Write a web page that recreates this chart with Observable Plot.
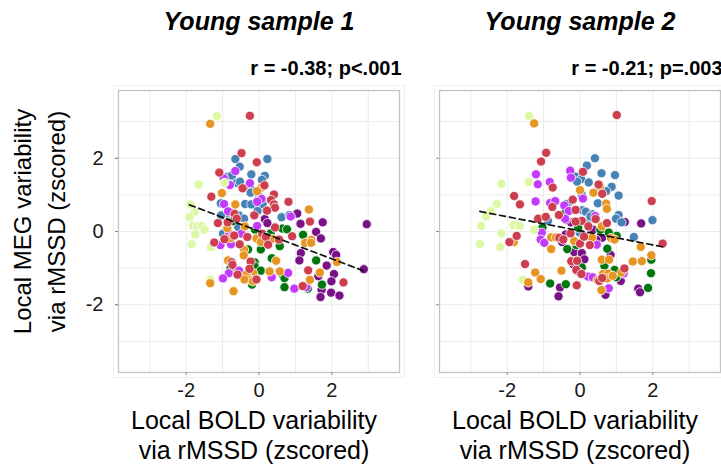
<!DOCTYPE html>
<html><head><meta charset="utf-8">
<script src="https://cdn.jsdelivr.net/npm/d3@7"></script>
<script src="https://cdn.jsdelivr.net/npm/@observablehq/plot@0.6"></script>
<style>body{margin:0;background:#fff} #chart{width:721px;height:466px;overflow:hidden}</style>
</head><body><div id="chart"></div>
<script>
const samples = ["Young sample 1", "Young sample 2"];
const stats = ["r = -0.38; p<.001", "r = -0.21; p=.003"];
const networks = ["Visual", "Somatomotor", "Dorsal Attention", "Ventral Attention", "Limbic", "Frontoparietal", "Default"];
const netColors = ["#781286", "#4682B4", "#00760E", "#C43AFA", "#DCF8A4", "#E69422", "#CD3E4E"];
const xTicks = [-2, 0, 2];
const yTicks = [-2, 0, 2];
const gridTicks = [-3, -2, -1, 0, 1, 2, 3];
const xTitle = "Local BOLD variability\nvia rMSSD (zscored)";
const yTitle = "Local MEG variability\nvia rMSSD (zscored)";

// Young sample 1: [BOLD, MEG] per parcel, by network
const s1Visual = [[1.05,0.49],[1.75,0.25],[1.14,0.21],[0.16,0.34],[0.23,0.23],[1.57,-0.01],[1.70,-0.19],[1.15,-0.59],[1.11,-0.79],[2.04,-0.56],[2.12,-0.64],[1.86,-0.93],[1.63,-1.22],[2.06,-1.16],[1.99,-1.36],[1.72,-1.59],[1.98,-1.67],[2.21,-1.75],[1.69,-1.79],[2.96,0.20],[2.88,-1.03]];
const s1Somatomotor = [[-0.65,1.98],[0.23,1.98],[-0.53,1.77],[-0.87,1.49],[-0.74,1.53],[-0.21,1.56],[0.16,1.52],[0.08,1.41],[-0.61,1.33],[-0.52,1.36],[-0.25,1.19],[-0.23,1.06],[0.00,0.97],[-0.04,0.83],[-1.05,0.77],[-0.38,0.75],[-0.21,0.74],[0.10,0.74],[-0.04,0.56],[-0.81,0.45],[-1.04,0.44],[-0.55,0.44],[-0.41,0.35],[-0.72,0.32],[0.62,0.39],[0.84,0.45],[-0.57,0.12],[-0.99,-0.06],[0.02,-0.08]];
const s1DorsalAttn = [[-0.72,0.28],[-0.11,0.05],[0.64,0.08],[0.77,0.06],[0.32,-0.05],[1.21,-0.09],[-0.30,-0.49],[0.05,-0.49],[0.57,-0.40],[0.35,-0.73],[-0.12,-0.84],[-0.12,-0.95],[-0.78,-0.99],[1.57,-0.79],[0.05,-1.07],[-0.19,-1.45],[0.65,-1.18],[0.70,-1.27],[0.70,-1.52],[1.34,-1.56],[1.73,-1.45],[-0.70,0.51]];
const s1VentralAttn = [[-0.65,1.65],[-0.97,1.45],[-0.80,1.27],[-0.25,1.32],[0.07,0.89],[-0.96,0.75],[-0.05,0.81],[-0.85,0.55],[0.87,0.41],[-0.05,0.15],[-0.82,-0.05],[-0.48,-0.06],[-1.06,-0.37],[-0.77,-0.35],[-0.55,-1.07],[-0.83,-1.14],[-0.99,-1.28],[0.80,-1.13],[0.35,-1.25],[0.97,-1.56],[1.30,-1.52]];
const s1Limbic = [[-1.15,3.15],[-1.66,1.28],[-0.95,1.33],[-1.88,0.74],[-1.77,0.53],[-1.91,0.39],[-1.81,0.16],[-1.70,0.14],[-1.57,0.15],[-1.50,0.05],[-1.75,-0.08],[-1.85,-0.35],[-1.32,-0.43],[-1.34,-1.32]];
const s1Frontoparietal = [[-1.34,2.94],[0.07,1.20],[-0.05,1.10],[-1.02,1.05],[-0.65,0.74],[1.37,0.60],[-0.39,0.14],[-0.87,0.09],[0.36,-0.20],[-0.77,-0.18],[-0.07,-0.19],[0.05,-0.29],[1.44,-0.23],[1.27,-0.31],[1.43,-0.31],[-0.41,-0.50],[-0.42,-0.65],[0.47,-0.80],[-0.85,-0.79],[2.14,-0.83],[-0.16,-1.14],[-0.34,-1.17],[0.29,-1.09],[1.67,-1.12],[-0.24,-1.32],[-0.40,-1.31],[-0.17,-1.36],[-1.34,-1.41],[0.57,-1.09],[1.40,-1.32],[-0.70,-1.63]];
const s1Default = [[-0.25,3.16],[-0.48,2.14],[-0.06,1.89],[-1.09,1.61],[0.15,1.26],[-0.45,1.18],[0.41,1.01],[-1.31,0.95],[0.33,0.86],[0.81,0.81],[0.41,0.74],[0.44,0.65],[0.22,0.57],[-0.13,0.44],[-0.67,0.48],[-0.61,0.35],[1.40,0.27],[-1.13,0.23],[-0.86,0.25],[0.44,0.11],[-0.68,-0.11],[0.09,-0.06],[0.19,-0.15],[-0.95,-0.21],[-0.32,-0.15],[0.25,-0.36],[0.55,-0.22],[0.91,-0.13],[-1.23,-0.30],[-0.53,-0.35],[-0.75,-0.84],[-0.73,-0.91],[-0.23,-0.82],[-0.26,-1.02],[1.35,-1.06],[-0.59,-1.18],[-0.07,-1.31],[2.32,-1.39],[1.20,-1.49]];

// Young sample 2
const s2Visual = [[1.23,0.26],[1.68,0.22],[-0.25,0.25],[0.36,0.05],[-0.39,-0.08],[-0.49,-0.29],[0.61,-0.17],[-0.16,-0.56],[0.05,-0.59],[0.84,-0.64],[0.12,-0.76],[-0.19,-0.89],[-1.42,-1.50],[-0.55,-1.53],[-0.59,-1.77],[1.12,-1.35],[0.70,-1.73],[1.60,-1.56],[1.65,-1.66],[0.45,-0.23],[-0.39,0.32]];
const s2Somatomotor = [[0.41,2.00],[0.19,1.80],[0.59,1.59],[0.96,1.54],[-0.13,1.50],[0.03,1.43],[-0.08,1.36],[0.24,1.34],[0.87,1.22],[0.72,1.10],[0.05,1.00],[1.06,0.98],[-0.32,0.77],[0.49,0.77],[0.07,0.58],[0.16,0.54],[0.34,0.47],[1.06,0.45],[0.99,0.35],[1.14,0.25],[1.99,0.31],[-0.88,0.29],[0.26,0.36],[1.48,-0.15],[0.29,0.41],[-0.37,0.75],[-0.01,-0.03]];
const s2DorsalAttn = [[-0.39,0.55],[-1.03,0.11],[-0.05,0.10],[0.56,0.05],[-0.10,-0.37],[-0.35,-0.48],[0.79,-0.03],[1.01,-0.12],[0.75,-0.47],[1.96,-0.77],[0.05,-0.98],[0.67,-0.94],[-0.82,-1.42],[-0.39,-1.44],[0.99,-1.25],[0.95,-1.05],[1.95,-1.14],[1.87,-1.54]];
const s2VentralAttn = [[-0.27,1.66],[-1.21,1.56],[-0.25,1.47],[-0.83,1.35],[-1.16,1.29],[0.08,0.90],[-1.22,0.82],[-0.82,0.78],[-0.68,0.83],[-0.43,0.71],[-0.31,0.56],[0.42,0.42],[-0.41,0.35],[-1.05,-0.03],[-1.08,-0.22],[-0.98,-0.31],[0.46,-0.36],[-0.04,-1.10],[0.22,-1.23],[0.35,-1.25],[1.20,-1.15],[0.79,-1.55]];
const s2Limbic = [[-1.40,3.16],[-2.16,1.30],[-1.41,1.35],[-2.28,0.75],[-2.45,0.56],[-2.58,0.41],[-2.72,0.15],[-1.83,0.17],[-1.66,0.15],[-2.16,-0.05],[-1.26,0.05],[-2.75,-0.34],[-2.19,-0.42],[-1.57,-1.32]];
const s2Frontoparietal = [[-1.26,2.95],[0.55,1.22],[0.00,1.13],[0.37,1.06],[0.72,0.76],[0.74,0.62],[0.60,0.14],[-1.82,-0.29],[-0.79,-0.16],[-0.66,-0.16],[-0.16,-0.26],[-0.79,-0.48],[0.33,-0.17],[0.85,-0.18],[0.95,-0.22],[1.67,-0.42],[1.96,-0.65],[1.45,-0.82],[1.70,-0.81],[0.60,-0.77],[0.80,-0.77],[-0.51,-1.07],[-1.23,-1.12],[-1.08,-1.30],[-1.42,-1.39],[0.48,-1.33],[0.63,-1.16],[0.78,-1.15],[0.75,-1.28],[0.90,-1.21],[1.14,-1.12],[0.59,-1.60]];
const s2Default = [[1.01,3.18],[-0.93,2.15],[-1.07,1.91],[0.08,1.63],[0.51,1.28],[-0.75,1.20],[0.61,1.03],[-1.81,0.97],[-0.20,0.87],[-0.76,0.67],[-1.65,0.74],[1.97,0.83],[-0.12,0.59],[-0.58,0.45],[-1.15,0.35],[-0.94,0.40],[0.05,0.29],[0.43,0.34],[0.23,0.14],[-1.74,-0.12],[-1.94,-0.29],[-0.57,-0.17],[-0.46,-0.22],[-0.26,-0.05],[0.00,-0.33],[0.11,-0.14],[0.27,-0.37],[2.27,-0.33],[-0.24,-0.81],[-0.08,-0.80],[-1.51,-0.89],[-0.10,-1.05],[0.04,-1.16],[-0.09,-1.47],[0.53,-1.35],[0.61,-1.27],[1.22,-1.01],[-0.12,0.27],[0.74,0.23]];

const sample1 = [s1Visual, s1Somatomotor, s1DorsalAttn, s1VentralAttn, s1Limbic, s1Frontoparietal, s1Default];
const sample2 = [s2Visual, s2Somatomotor, s2DorsalAttn, s2VentralAttn, s2Limbic, s2Frontoparietal, s2Default];

const points = [];
[sample1, sample2].forEach((sets, si) =>
  sets.forEach((arr, ni) =>
    arr.forEach(([x, y]) => points.push({sample: samples[si], network: networks[ni], x, y}))));
const labels = samples.map((s, i) => ({sample: s, stat: stats[i]}));

const tickStroke = "#8c8c8c";
const fmt = d => String(d);
const chart = Plot.plot({
  width: 721,
  height: 466,
  marginTop: 90,
  marginBottom: 94,
  marginLeft: 117,
  marginRight: 0,
  style: {fontFamily: "'Liberation Sans', Arial, sans-serif", background: "white", color: "#1a1a1a"},
  fx: {domain: samples, paddingInner: 0.1242, paddingOuter: 0, axis: null, label: null},
  x: {domain: [-3.86, 3.86]},
  y: {domain: [-3.85, 3.85]},
  color: {domain: networks, range: netColors},
  marks: [
    Plot.frame({inset: -5, stroke: "#efefef", strokeWidth: 1}),
    Plot.gridX({ticks: gridTicks, stroke: "#ebebeb", strokeOpacity: 1, strokeWidth: 1}),
    Plot.gridY({ticks: gridTicks, stroke: "#ebebeb", strokeOpacity: 1, strokeWidth: 1}),
    Plot.frame({stroke: "#c4c4c4", strokeWidth: 1.3}),
    Plot.axisX({ticks: xTicks, tickFormat: fmt, tickSize: 3, tickPadding: 7, fontSize: 20, label: null, stroke: tickStroke}),
    Plot.axisY({ticks: yTicks, tickFormat: fmt, tickSize: 3, tickPadding: 12, fontSize: 20, label: null, stroke: tickStroke}),
    Plot.axisY({ticks: yTicks, tickSize: 3, tickFormat: () => "", label: null, stroke: tickStroke, facetAnchor: null}),
    Plot.dot(points, {fx: "sample", x: "x", y: "y", fill: "network", r: 4.6, stroke: "white", strokeWidth: 0.8}),
    Plot.linearRegressionY(points, {fx: "sample", x: "x", y: "y", ci: 0, stroke: "#111", strokeWidth: 1.7, strokeDasharray: "6,4"}),
    Plot.text(labels, {fx: "sample", text: "sample", frameAnchor: "top", lineAnchor: "bottom", dy: -61, fontSize: 25, fontWeight: "bold", fontStyle: "italic", fill: "#000"}),
    Plot.text(labels, {fx: "sample", text: "stat", frameAnchor: "top-right", textAnchor: "end", lineAnchor: "bottom", dy: -16, dx: 2, fontSize: 20, fontWeight: "bold", fill: "#000"}),
    Plot.text([xTitle], {text: d => d, frameAnchor: "bottom", lineAnchor: "top", dy: 35, dx: -5, fontSize: 25, lineHeight: 1.2, fill: "#000"}),
    Plot.text([labels[0]], {fx: "sample", text: () => yTitle, frameAnchor: "left", textAnchor: "middle", rotate: -90, dx: -81, dy: -10, fontSize: 24, lineHeight: 1.4, fill: "#000"})
  ]
});
document.getElementById("chart").appendChild(chart);
</script>
</body></html>
